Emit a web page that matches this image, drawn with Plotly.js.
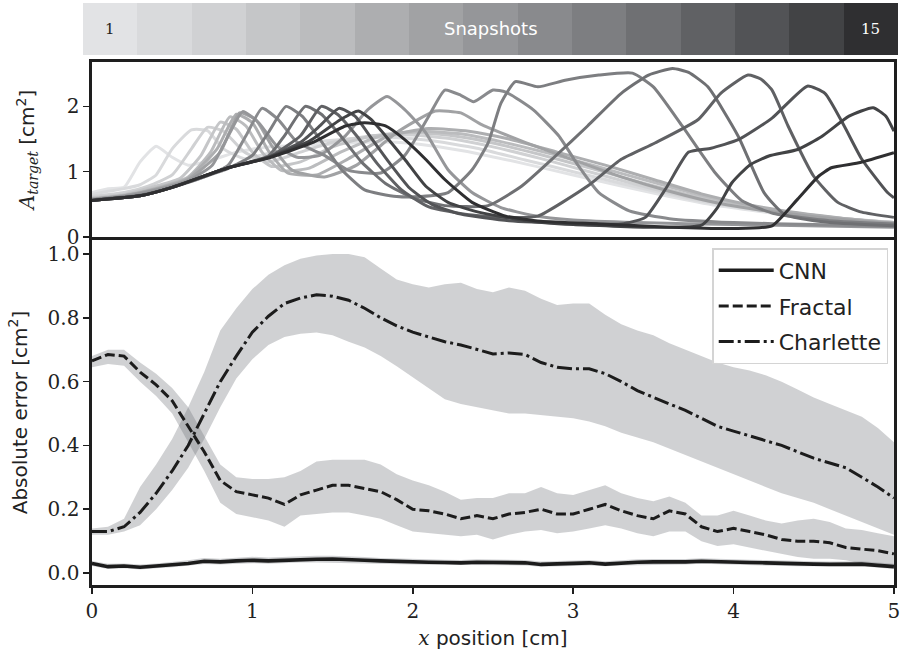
<!DOCTYPE html>
<html>
<head>
<meta charset="utf-8">
<script src="https://cdn.plot.ly/plotly-3.0.1.min.js"></script>
<style>html,body{margin:0;padding:0;background:#fff;}#chart{width:901px;height:660px;}</style>
</head>
<body>
<div id="chart"></div>
<script>
// ---------- Colour strip (snapshots 1..15) ----------
const snapIds = [1,2,3,4,5,6,7,8,9,10,11,12,13,14,15];
const snapColors = ['#e2e3e5','#d9dadc','#d0d1d3','#c5c6c8','#bbbcbe','#adaeb0','#a1a2a4','#959699','#898a8d','#7d7e81','#6f7073','#606164','#525356','#424345','#2f2f31'];
const stripHeight = [1,1,1,1,1,1,1,1,1,1,1,1,1,1,1];

// ---------- Top panel: A_target snapshots ----------
const s1x = [0,0.1,0.2,0.3,0.4,0.5,0.6,0.75,0.9,1.1,1.3,1.5,1.7,1.9,2.1,2.4,2.7,3.0,3.3,3.6,3.9,4.2,4.5,4.8,5.0];
const s1y = [0.68,0.74,0.76,1.15,1.39,1.22,1.10,1.18,1.30,1.38,1.40,1.42,1.45,1.45,1.40,1.28,1.12,0.95,0.78,0.62,0.48,0.38,0.30,0.25,0.22];
const s2x = [0,0.1,0.2,0.3,0.4,0.5,0.62,0.72,0.82,0.95,1.1,1.3,1.5,1.7,1.9,2.1,2.4,2.7,3.0,3.3,3.6,3.9,4.2,4.5,4.8,5.0];
const s2y = [0.65,0.70,0.74,0.80,0.95,1.35,1.64,1.63,1.35,1.20,1.28,1.42,1.48,1.52,1.52,1.48,1.36,1.18,1.00,0.82,0.65,0.50,0.40,0.31,0.25,0.22];
const s3x = [0,0.2,0.35,0.5,0.62,0.72,0.82,0.95,1.1,1.3,1.5,1.75,2.0,2.25,2.5,2.8,3.1,3.4,3.7,4.0,4.3,4.6,5.0];
const s3y = [0.62,0.68,0.78,0.95,1.35,1.68,1.62,1.30,1.15,1.30,1.45,1.55,1.56,1.50,1.38,1.20,1.00,0.80,0.62,0.48,0.37,0.29,0.22];
const s4x = [0,0.2,0.4,0.55,0.68,0.80,0.90,1.0,1.12,1.3,1.5,1.75,2.0,2.25,2.5,2.8,3.1,3.4,3.7,4.0,4.3,4.6,5.0];
const s4y = [0.60,0.65,0.78,0.90,1.25,1.76,1.65,1.30,1.08,1.15,1.38,1.55,1.60,1.55,1.44,1.26,1.06,0.85,0.66,0.50,0.38,0.30,0.22];
const s5x = [0,0.2,0.4,0.6,0.74,0.86,0.96,1.06,1.18,1.35,1.55,1.8,2.05,2.3,2.55,2.85,3.15,3.45,3.75,4.05,4.35,4.7,5.0];
const s5y = [0.59,0.64,0.75,0.92,1.30,1.84,1.70,1.30,1.02,1.05,1.30,1.55,1.62,1.58,1.46,1.28,1.08,0.87,0.67,0.50,0.38,0.28,0.22];
const s6x = [0,0.2,0.4,0.6,0.78,0.90,1.0,1.1,1.22,1.4,1.6,1.85,2.1,2.35,2.6,2.9,3.2,3.5,3.8,4.1,4.4,4.7,5.0];
const s6y = [0.58,0.63,0.74,0.90,1.35,1.88,1.75,1.32,0.98,0.95,1.20,1.55,1.66,1.62,1.50,1.30,1.10,0.88,0.66,0.49,0.37,0.28,0.21];
const s7x = [0,0.2,0.4,0.6,0.8,0.92,1.02,1.12,1.25,1.45,1.65,1.9,2.14,2.3,2.43,2.7,3.0,3.3,3.6,3.9,4.2,4.5,4.8,5.0];
const s7y = [0.58,0.63,0.73,0.88,1.30,1.90,1.80,1.40,1.02,0.92,1.10,1.60,1.93,1.90,1.72,1.45,1.18,0.92,0.70,0.52,0.40,0.31,0.24,0.21];
const s8x = [0,0.2,0.4,0.6,0.75,0.85,0.94,1.04,1.15,1.28,1.42,1.58,1.72,1.84,1.95,2.08,2.22,2.37,2.55,2.75,3.0,3.4,4.0,5.0];
const s8y = [0.57,0.62,0.72,0.86,1.10,1.55,1.92,1.75,1.40,1.22,1.25,1.55,1.95,2.15,1.95,1.60,1.03,0.68,0.45,0.33,0.26,0.22,0.19,0.15];
const s9x = [0,0.3,0.5,0.7,0.85,0.96,1.06,1.16,1.28,1.45,1.6,1.8,1.95,2.1,2.2,2.3,2.38,2.5,2.58,2.75,2.91,3.03,3.16,3.35,3.6,4.0,4.5,5.0];
const s9y = [0.57,0.64,0.76,0.92,1.10,1.55,1.97,1.80,1.45,1.25,1.02,0.98,1.25,1.85,2.25,2.17,2.07,2.25,2.22,1.95,1.55,1.10,0.68,0.40,0.28,0.22,0.19,0.16];
const s10x = [0,0.3,0.5,0.85,1.0,1.1,1.21,1.31,1.42,1.55,1.7,1.9,2.05,2.22,2.37,2.47,2.55,2.64,2.78,2.95,3.16,3.37,3.5,3.68,3.88,4.05,4.25,4.6,5.0];
const s10y = [0.57,0.64,0.76,1.05,1.25,1.60,2.00,1.85,1.50,1.05,0.72,0.62,0.62,0.68,1.03,1.44,2.05,2.38,2.30,2.40,2.48,2.51,2.30,1.70,1.00,0.56,0.36,0.25,0.20];
const s11x = [0,0.3,0.5,0.85,1.1,1.2,1.33,1.43,1.55,1.68,1.83,2.0,2.2,2.47,2.68,2.89,3.09,3.30,3.47,3.62,3.72,3.84,4.03,4.19,4.32,4.6,5.0];
const s11y = [0.56,0.63,0.76,1.06,1.24,1.55,2.00,1.88,1.55,1.15,0.82,0.60,0.48,0.48,0.78,1.24,1.70,2.20,2.48,2.58,2.52,2.30,1.54,0.68,0.34,0.22,0.17];
const s12x = [0,0.3,0.5,0.85,1.1,1.3,1.43,1.53,1.65,1.78,1.93,2.1,2.35,2.6,2.78,3.09,3.30,3.51,3.78,3.92,4.09,4.17,4.24,4.34,4.50,4.65,4.8,5.0];
const s12y = [0.56,0.63,0.76,1.06,1.22,1.55,2.00,1.88,1.55,1.12,0.72,0.46,0.34,0.30,0.32,0.78,1.19,1.44,1.80,2.20,2.48,2.42,2.25,1.70,0.93,0.53,0.38,0.30];
const s13x = [0,0.3,0.5,0.85,1.1,1.3,1.42,1.54,1.64,1.74,1.85,1.98,2.12,2.3,2.6,3.0,3.3,3.45,3.58,3.72,3.86,4.03,4.24,4.46,4.57,4.69,4.80,4.96,5.0];
const s13y = [0.56,0.63,0.76,1.06,1.22,1.45,1.70,1.97,1.85,1.52,1.15,0.75,0.50,0.35,0.25,0.21,0.20,0.30,0.75,1.30,1.36,1.49,1.82,2.31,2.20,1.70,1.19,0.68,0.60];
const s14x = [0,0.3,0.5,0.85,1.1,1.35,1.55,1.66,1.74,1.85,1.95,2.08,2.22,2.41,2.7,3.0,3.5,3.8,3.9,3.99,4.1,4.22,4.40,4.55,4.72,4.87,4.95,5.0];
const s14y = [0.56,0.63,0.76,1.06,1.22,1.46,1.80,1.93,1.80,1.49,1.19,0.78,0.53,0.38,0.25,0.19,0.15,0.18,0.45,0.83,1.10,1.24,1.34,1.54,1.85,1.98,1.85,1.62];
const s15x = [0,0.3,0.5,0.85,1.1,1.37,1.58,1.70,1.83,1.95,2.08,2.2,2.37,2.58,2.8,3.16,3.6,4.0,4.24,4.4,4.53,4.61,4.79,5.0];
const s15y = [0.56,0.63,0.76,1.06,1.21,1.44,1.70,1.75,1.70,1.49,1.19,0.88,0.53,0.32,0.24,0.20,0.15,0.13,0.17,0.58,0.93,1.06,1.14,1.29];

// ---------- Bottom panel: absolute error ----------
const xPos = [0,0.1,0.2,0.3,0.4,0.5,0.6,0.7,0.8,0.9,1.0,1.1,1.2,1.3,1.4,1.5,1.6,1.7,1.8,1.9,2.0,2.1,2.2,2.3,2.4,2.5,2.6,2.7,2.8,2.9,3.0,3.1,3.2,3.3,3.4,3.5,3.6,3.7,3.8,3.9,4.0,4.1,4.2,4.3,4.4,4.5,4.6,4.7,4.8,4.9,5.0];
const cnnMean = [0.030,0.020,0.022,0.018,0.022,0.025,0.030,0.037,0.035,0.038,0.040,0.038,0.040,0.043,0.043,0.044,0.043,0.040,0.038,0.036,0.035,0.034,0.033,0.032,0.034,0.033,0.032,0.032,0.027,0.028,0.030,0.032,0.028,0.032,0.034,0.035,0.034,0.035,0.037,0.035,0.033,0.033,0.032,0.030,0.028,0.028,0.027,0.028,0.028,0.024,0.020];
const cnnUpper = [0.038,0.029,0.030,0.027,0.030,0.034,0.040,0.047,0.045,0.048,0.051,0.049,0.051,0.054,0.054,0.054,0.053,0.050,0.047,0.045,0.044,0.043,0.042,0.041,0.043,0.042,0.041,0.041,0.036,0.037,0.039,0.041,0.037,0.041,0.043,0.044,0.043,0.044,0.046,0.044,0.042,0.042,0.041,0.039,0.037,0.037,0.036,0.037,0.037,0.033,0.029];
const cnnLower = [0.022,0.013,0.015,0.011,0.015,0.018,0.022,0.028,0.027,0.029,0.031,0.029,0.031,0.033,0.033,0.034,0.033,0.031,0.029,0.028,0.027,0.026,0.025,0.024,0.026,0.025,0.024,0.024,0.020,0.021,0.022,0.024,0.021,0.024,0.026,0.027,0.026,0.027,0.029,0.027,0.025,0.025,0.024,0.022,0.021,0.021,0.020,0.021,0.021,0.017,0.013];
const fracMean = [0.665,0.685,0.68,0.63,0.59,0.54,0.46,0.38,0.29,0.255,0.245,0.235,0.215,0.245,0.26,0.275,0.275,0.265,0.255,0.23,0.20,0.195,0.185,0.17,0.18,0.17,0.185,0.19,0.20,0.185,0.185,0.20,0.215,0.195,0.18,0.17,0.195,0.185,0.145,0.13,0.14,0.13,0.12,0.105,0.10,0.10,0.095,0.08,0.075,0.07,0.06];
const fracUpper = [0.68,0.70,0.70,0.66,0.625,0.58,0.52,0.43,0.34,0.30,0.295,0.295,0.30,0.32,0.35,0.355,0.355,0.355,0.34,0.31,0.29,0.275,0.255,0.23,0.235,0.235,0.25,0.25,0.27,0.25,0.245,0.26,0.275,0.25,0.235,0.225,0.24,0.22,0.18,0.18,0.195,0.18,0.165,0.155,0.165,0.17,0.16,0.14,0.135,0.125,0.115];
const fracLower = [0.645,0.655,0.65,0.60,0.555,0.50,0.41,0.32,0.22,0.185,0.175,0.165,0.145,0.18,0.185,0.19,0.19,0.18,0.17,0.15,0.13,0.125,0.12,0.115,0.12,0.105,0.12,0.13,0.135,0.125,0.13,0.14,0.15,0.14,0.125,0.115,0.13,0.13,0.10,0.085,0.09,0.08,0.07,0.06,0.05,0.045,0.045,0.04,0.03,0.03,0.02];
const charMean = [0.13,0.13,0.145,0.19,0.25,0.32,0.40,0.50,0.60,0.68,0.755,0.805,0.845,0.862,0.872,0.868,0.855,0.83,0.80,0.775,0.755,0.74,0.725,0.715,0.70,0.687,0.69,0.685,0.66,0.645,0.64,0.64,0.625,0.60,0.572,0.55,0.53,0.51,0.485,0.46,0.445,0.43,0.415,0.40,0.38,0.36,0.345,0.33,0.30,0.27,0.235];
const charUpper = [0.14,0.145,0.17,0.27,0.34,0.42,0.52,0.63,0.76,0.83,0.89,0.935,0.965,0.985,0.995,1.0,1.0,0.99,0.955,0.92,0.905,0.895,0.905,0.91,0.89,0.88,0.895,0.885,0.86,0.84,0.845,0.845,0.81,0.78,0.76,0.745,0.72,0.70,0.68,0.66,0.645,0.635,0.62,0.60,0.575,0.55,0.53,0.51,0.49,0.455,0.41];
const charLower = [0.12,0.12,0.13,0.15,0.20,0.26,0.33,0.42,0.52,0.61,0.67,0.715,0.74,0.75,0.754,0.745,0.725,0.707,0.68,0.648,0.615,0.58,0.545,0.53,0.52,0.51,0.50,0.50,0.495,0.49,0.485,0.475,0.46,0.44,0.425,0.41,0.39,0.37,0.35,0.33,0.31,0.29,0.27,0.25,0.235,0.22,0.20,0.18,0.16,0.14,0.12];
const methodNames = ['CNN','Fractal','Charlette'];

// ---------- build traces ----------
const snapXs = [s1x,s2x,s3x,s4x,s5x,s6x,s7x,s8x,s9x,s10x,s11x,s12x,s13x,s14x,s15x];
const snapYs = [s1y,s2y,s3y,s4y,s5y,s6y,s7y,s8y,s9y,s10y,s11y,s12y,s13y,s14y,s15y];
const traces = [];

traces.push({type:'bar', x:snapIds, y:stripHeight, xaxis:'x3', yaxis:'y3', width:1,
  marker:{color:snapColors, line:{width:0}}, showlegend:false, hoverinfo:'skip'});

snapXs.forEach((xs,i)=>{
  traces.push({type:'scatter', mode:'lines', x:xs, y:snapYs[i], xaxis:'x2', yaxis:'y2',
    line:{color:snapColors[i], width:3, shape:'spline', smoothing:0.5}, showlegend:false, hoverinfo:'skip'});
});

const bandColor = 'rgba(112,114,120,0.33)';
function band(up, lo){
  return {type:'scatter', mode:'lines', x:xPos.concat(xPos.slice().reverse()),
    y:up.concat(lo.slice().reverse()), fill:'toself', fillcolor:bandColor,
    line:{width:0}, xaxis:'x', yaxis:'y', showlegend:false, hoverinfo:'skip'};
}
traces.push(band(charUpper, charLower));
traces.push(band(fracUpper, fracLower));
traces.push(band(cnnUpper, cnnLower));

traces.push({type:'scatter', mode:'lines', name:methodNames[0], legendgroup:'g1', x:xPos, y:cnnMean, xaxis:'x', yaxis:'y',
  line:{color:'#1c1c1c', width:3.6}});
traces.push({type:'scatter', mode:'lines', name:methodNames[1], legendgroup:'g2', x:xPos, y:fracMean, xaxis:'x', yaxis:'y',
  line:{color:'#1c1c1c', width:3, dash:'10px,4px'}});
traces.push({type:'scatter', mode:'lines', name:methodNames[2], legendgroup:'g3', x:xPos, y:charMean, xaxis:'x', yaxis:'y',
  line:{color:'#1c1c1c', width:3, dash:'15px,4px,3px,4px'}});

const spine = {showline:true, mirror:true, linewidth:2.6, linecolor:'#1e1e1e', showgrid:false, zeroline:false};
const tickF = {family:'DejaVu Serif', size:20, color:'#222'};
const titleF = {family:'DejaVu Sans', size:20, color:'#222'};
const plotDomX = [0.011,0.995];

const layout = {
  width:901, height:660,
  margin:{l:83, r:3, t:3, b:75},
  paper_bgcolor:'#ffffff', plot_bgcolor:'#ffffff',
  bargap:0,
  xaxis: Object.assign({}, spine, {domain:plotDomX, range:[0,5], anchor:'y',
    ticks:'outside', ticklen:6, tickwidth:1.6, tickcolor:'#1e1e1e', tickvals:[0,1,2,3,4,5],
    tickfont:tickF, ticklabeloverflow:'allow',
    title:{text:'<span style="font-family:DejaVu Serif;font-style:italic">x</span> position [cm]', font:titleF, standoff:10}}),
  yaxis: Object.assign({}, spine, {domain:[0,0.5928], range:[-0.0375,1.044], anchor:'x',
    ticks:'outside', ticklen:6, tickwidth:1.6, tickcolor:'#1e1e1e', tickvals:[0,0.2,0.4,0.6,0.8,1.0],
    tickformat:'.1f', tickfont:tickF,
    title:{text:'Absolute error [cm<sup>2</sup>]', font:titleF, standoff:15}}),
  xaxis2: Object.assign({}, spine, {domain:plotDomX, range:[0,5], anchor:'y2',
    showticklabels:false, ticks:''}),
  yaxis2: Object.assign({}, spine, {domain:[0.598,0.8986], range:[0,2.68], anchor:'x2',
    ticks:'outside', ticklen:6, tickwidth:1.6, tickcolor:'#1e1e1e', tickvals:[0,1,2],
    tickfont:tickF,
    title:{text:'<span style="font-family:DejaVu Serif;font-style:italic">A<sub>target</sub></span> [cm<sup>2</sup>]', font:titleF, standoff:27}}),
  xaxis3: {domain:[0,1], range:[0.5,15.5], anchor:'y3', visible:false, fixedrange:true},
  yaxis3: {domain:[0.9107,1], range:[0,1], anchor:'x3', visible:false, fixedrange:true},
  legend: {x:0.988, y:0.579, xanchor:'right', yanchor:'top', bgcolor:'rgba(255,255,255,0.92)',
    bordercolor:'#d4d4d4', borderwidth:1.5, font:{family:'DejaVu Sans', size:22, color:'#222'},
    itemwidth:55, tracegroupgap:4},
  annotations: [
    {xref:'x3', yref:'y3', x:snapIds[0], y:0.5, text:String(snapIds[0]), showarrow:false,
      font:{family:'DejaVu Serif', size:15, color:'#222'}},
    {xref:'x3', yref:'y3', x:8, y:0.5, text:'Snapshots', showarrow:false,
      font:{family:'DejaVu Sans', size:18, color:'#ffffff'}},
    {xref:'x3', yref:'y3', x:snapIds[14], y:0.5, text:String(snapIds[14]), showarrow:false,
      font:{family:'DejaVu Serif', size:15, color:'#ffffff'}}
  ]
};

Plotly.newPlot('chart', traces, layout, {displayModeBar:false, staticPlot:true});
</script>
</body>
</html>
